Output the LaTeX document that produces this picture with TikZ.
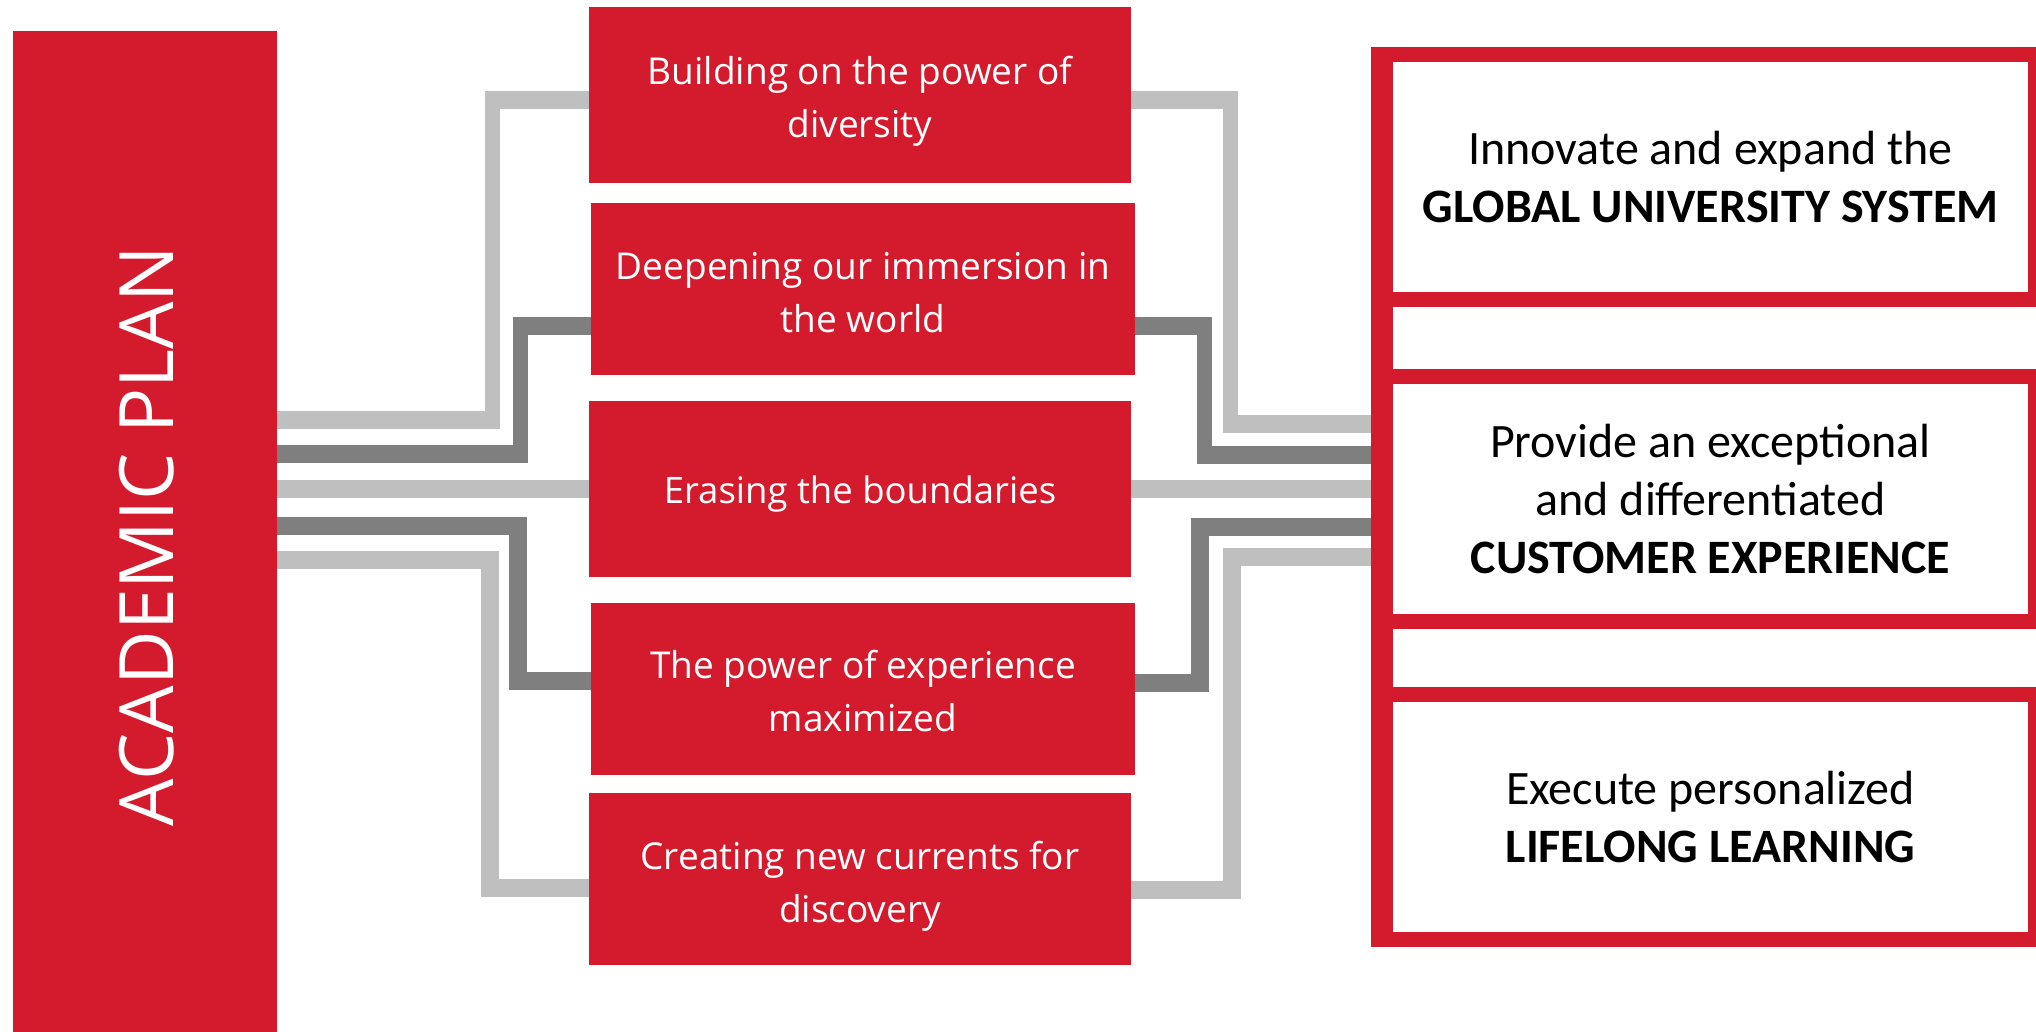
\documentclass[tikz,border=0pt]{standalone}
\usepackage{fontspec}
\setmainfont{Open Sans}
\newfontfamily\calfont{Carlito}
\definecolor{ured}{HTML}{D31B2D}
\definecolor{lgray}{HTML}{BFBFBF}
\definecolor{dgray}{HTML}{7F7F7F}
\begin{document}
\begin{tikzpicture}[x=1pt,y=-1pt,
  redbox/.style={fill=ured, inner sep=0pt, outer sep=0pt},
  midtext/.style={text=white, inner sep=0pt, align=center, font=\fontsize{37}{53}\selectfont},
  wbox/.style={draw=ured, line width=15pt, fill=white, inner sep=0pt, outer sep=0pt, align=center,
    font=\calfont\fontsize{48}{58}\selectfont, minimum width=650, minimum height=245},
  lg/.style={draw=lgray, line width=18pt},
  dg/.style={draw=dgray, line width=18pt},
  vthin/.style={line width=15pt},
  vthick/.style={line width=17.5pt}
]
\useasboundingbox (0,0) rectangle (2036,1032);

% left box
\node[redbox, minimum width=264, minimum height=1010] (L) at (145,536) {};
\node[rotate=90, text=white, inner sep=0pt, font=\fontsize{75}{80}\selectfont] (LT) at (147,536) {ACADEMIC PLAN};

% middle boxes
\node[redbox, minimum width=542, minimum height=176] (b1) at (860,95) {};
\node[redbox, minimum width=544, minimum height=172] (b2) at (863,289) {};
\node[redbox, minimum width=542, minimum height=176] (b3) at (860,489) {};
\node[redbox, minimum width=544, minimum height=172] (b4) at (863,689) {};
\node[redbox, minimum width=542, minimum height=172] (b5) at (860,879) {};
\node[midtext] (t1) at ([yshift=-6pt]b1.center) {Building on the power of\\diversity};
\node[midtext] (t2) at ([yshift=-4pt]b2.center) {Deepening our immersion in\\the world};
\node[midtext, font=\fontsize{36.5}{53}\selectfont] (t3) at ([yshift=-5pt]b3.center) {Erasing the boundaries};
\node[midtext] (t4) at ([yshift=-2pt]b4.center) {The power of experience\\maximized};
\node[midtext] (t5) at ([yshift=-7pt]b5.center) {Creating new currents for\\discovery};

% right bar (for connector ends)
\node[redbox, minimum width=22, minimum height=900] (bar) at (1382,497) {};

% turning points
\coordinate (p1) at (492,420); \coordinate (q1) at (492,100);
\coordinate (p2) at (520,454); \coordinate (q2) at (520,326);
\coordinate (p4) at (518,526); \coordinate (q4) at (518,681);
\coordinate (p5) at (490,560); \coordinate (q5) at (490,888);
\coordinate (r1) at (1230,100); \coordinate (s1) at (1230,424);
\coordinate (r2) at (1204,326); \coordinate (s2) at (1204,455);
\coordinate (r4) at (1200,683); \coordinate (s4) at (1200,527);
\coordinate (r5) at (1232,890); \coordinate (s5) at (1232,557);

% left connectors
\draw[lg, vthin] (L.east |- p1) -- (p1) -- (q1) -- (b1.west |- q1);
\draw[lg] (L.east |- p1) -- ([xshift=7.5pt]p1);
\draw[lg] ([xshift=-7.5pt]q1) -- (b1.west |- q1);

\draw[dg, vthin] (L.east |- p2) -- (p2) -- (q2) -- (b2.west |- q2);
\draw[dg] (L.east |- p2) -- ([xshift=7.5pt]p2);
\draw[dg] ([xshift=-7.5pt]q2) -- (b2.west |- q2);

\draw[lg] (L.east |- b3.west) -- (b3.west);

\draw[dg, vthick] (L.east |- p4) -- (p4) -- (q4) -- (b4.west |- q4);
\draw[dg] (L.east |- p4) -- ([xshift=8.75pt]p4);
\draw[dg] ([xshift=-8.75pt]q4) -- (b4.west |- q4);

\draw[lg, vthick] (L.east |- p5) -- (p5) -- (q5) -- (b5.west |- q5);
\draw[lg] (L.east |- p5) -- ([xshift=8.75pt]p5);
\draw[lg] ([xshift=-8.75pt]q5) -- (b5.west |- q5);

% right connectors
\draw[lg, vthin] (b1.east |- r1) -- (r1) -- (s1) -- (bar.west |- s1);
\draw[lg] (b1.east |- r1) -- ([xshift=7.5pt]r1);
\draw[lg] ([xshift=-7.5pt]s1) -- (bar.west |- s1);

\draw[dg, vthin] (b2.east |- r2) -- (r2) -- (s2) -- (bar.west |- s2);
\draw[dg] (b2.east |- r2) -- ([xshift=7.5pt]r2);
\draw[dg] ([xshift=-7.5pt]s2) -- (bar.west |- s2);

\draw[lg] (b3.east) -- (bar.west |- b3.east);

\draw[dg, vthick] (b4.east |- r4) -- (r4) -- (s4) -- (bar.west |- s4);
\draw[dg] (b4.east |- r4) -- ([xshift=8.75pt]r4);
\draw[dg] ([xshift=-8.75pt]s4) -- (bar.west |- s4);

\draw[lg, vthick] (b5.east |- r5) -- (r5) -- (s5) -- (bar.west |- s5);
\draw[lg] (b5.east |- r5) -- ([xshift=8.75pt]r5);
\draw[lg] ([xshift=-8.75pt]s5) -- (bar.west |- s5);

% right boxes
\node[wbox] (R1) at (1710.5,177) {Innovate and expand the\\\textbf{GLOBAL UNIVERSITY SYSTEM}};
\node[wbox] (R2) at (1710.5,499) {Provide an exceptional\\and differentiated\\\textbf{CUSTOMER EXPERIENCE}};
\node[wbox] (R3) at (1710.5,817) {Execute personalized\\\textbf{LIFELONG LEARNING}};
\fill[ured] (bar.south west) rectangle (bar.north east);
\end{tikzpicture}
\end{document}
